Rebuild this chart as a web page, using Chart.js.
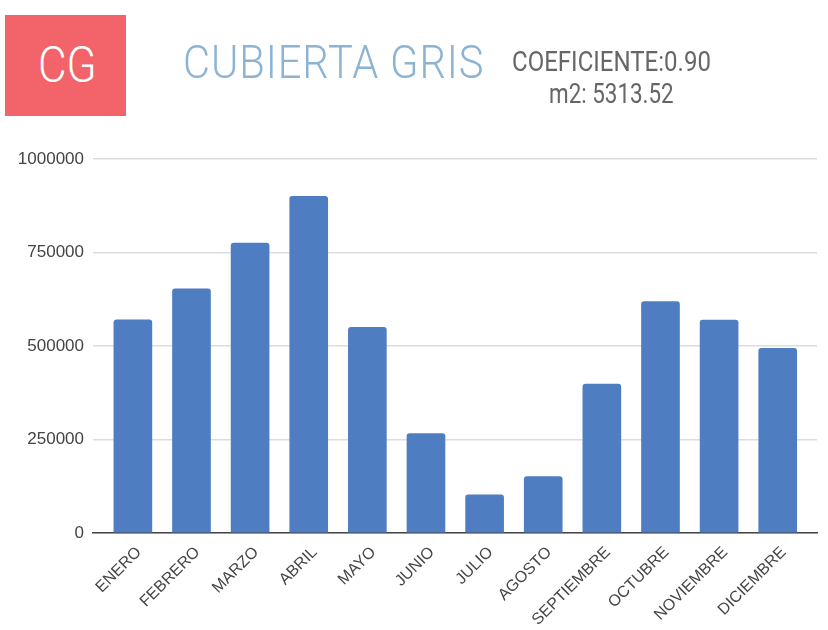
<!DOCTYPE html>
<html>
<head>
<meta charset="utf-8">
<script src="https://cdn.jsdelivr.net/npm/chart.js@4.4.1/dist/chart.umd.min.js"></script>
<style>
  html, body { margin: 0; padding: 0; background: #fff; }
  #wrap { position: relative; width: 828px; height: 630px; overflow: hidden; }
  #grafico { position: absolute; left: 0; top: 0; }
  .txt { position: absolute; line-height: 1; white-space: nowrap; font-family: Roboto, sans-serif; transform-origin: 0 0; }
  #caja { position: absolute; left: 5px; top: 15px; width: 121px; height: 101px; background: #F2636A; }
  #cg { left: 38px; top: 40px; font-size: 50px; font-weight: 300; color: #fff; transform: scaleX(0.88); }
  #titulo { left: 183px; top: 39px; font-size: 46px; font-weight: 300; color: #8DB3D3; transform: scaleX(0.905); letter-spacing: 1px; }
  #coef { left: 512px; top: 49px; font-size: 27px; color: #666; transform: scaleX(0.89); }
  #m2 { left: 549px; top: 81px; font-size: 27px; color: #666; transform: scaleX(0.83); }
</style>
</head>
<body>
<div id="wrap">
  <canvas id="grafico" width="828" height="630"></canvas>
  <div id="caja"></div>
  <div class="txt" id="cg">CG</div>
  <div class="txt" id="titulo">CUBIERTA GRIS</div>
  <div class="txt" id="coef">COEFICIENTE:0.90</div>
  <div class="txt" id="m2">m2: 5313.52</div>
</div>
<script>
// consumo mensual
const meses = ['ENERO', 'FEBRERO', 'MARZO', 'ABRIL', 'MAYO', 'JUNIO', 'JULIO', 'AGOSTO',
               'SEPTIEMBRE', 'OCTUBRE', 'NOVIEMBRE', 'DICIEMBRE'];
const valores = [570000, 653000, 775000, 900000, 550000, 266000, 102000, 151000,
                 398000, 619000, 569000, 494000];
const ticksY = [0, 250000, 500000, 750000, 1000000];

const grisTexto = '#444';

new Chart(document.getElementById('grafico'), {
    type: 'bar',
    data: {
        datasets: [{
            data: valores.map((v, i) => ({ x: i, y: v })),
            backgroundColor: '#4F7DC1',
            barThickness: 38,
            borderRadius: { topLeft: 3, topRight: 3 },
            borderSkipped: 'start'
        }]
    },
    options: {
        responsive: false,
        animation: false,
        layout: { padding: { top: 159, right: 11, bottom: 0, left: 0 } },
        plugins: { legend: { display: false }, tooltip: { enabled: false } },
        scales: {
            x: {
                type: 'linear',
                offset: false,
                min: -0.68,
                max: 11.67,
                grid: { display: false },
                border: { display: true, color: '#444', width: 1.5 },
                afterFit: s => { s.height = 97; },
                ticks: {
                    stepSize: 1,
                    includeBounds: false,
                    autoSkip: false,
                    minRotation: 45,
                    maxRotation: 45,
                    padding: 2,
                    labelOffset: 6,
                    color: grisTexto,
                    font: { family: 'Liberation Sans, Arial, sans-serif', size: 16 },
                    callback: v => Number.isInteger(v) ? meses[v] : ''
                }
            },
            y: {
                min: ticksY[0],
                max: ticksY[ticksY.length - 1],
                afterBuildTicks: s => { s.ticks = ticksY.map(v => ({ value: v })); },
                afterFit: s => { s.width = 93; },
                grid: { color: '#dddddd', drawTicks: false, lineWidth: 1.5 },
                border: { display: false },
                ticks: {
                    padding: 9,
                    color: grisTexto,
                    font: { family: 'Liberation Sans, Arial, sans-serif', size: 17 },
                    callback: v => String(v)
                }
            }
        }
    }
});
</script>
</body>
</html>
